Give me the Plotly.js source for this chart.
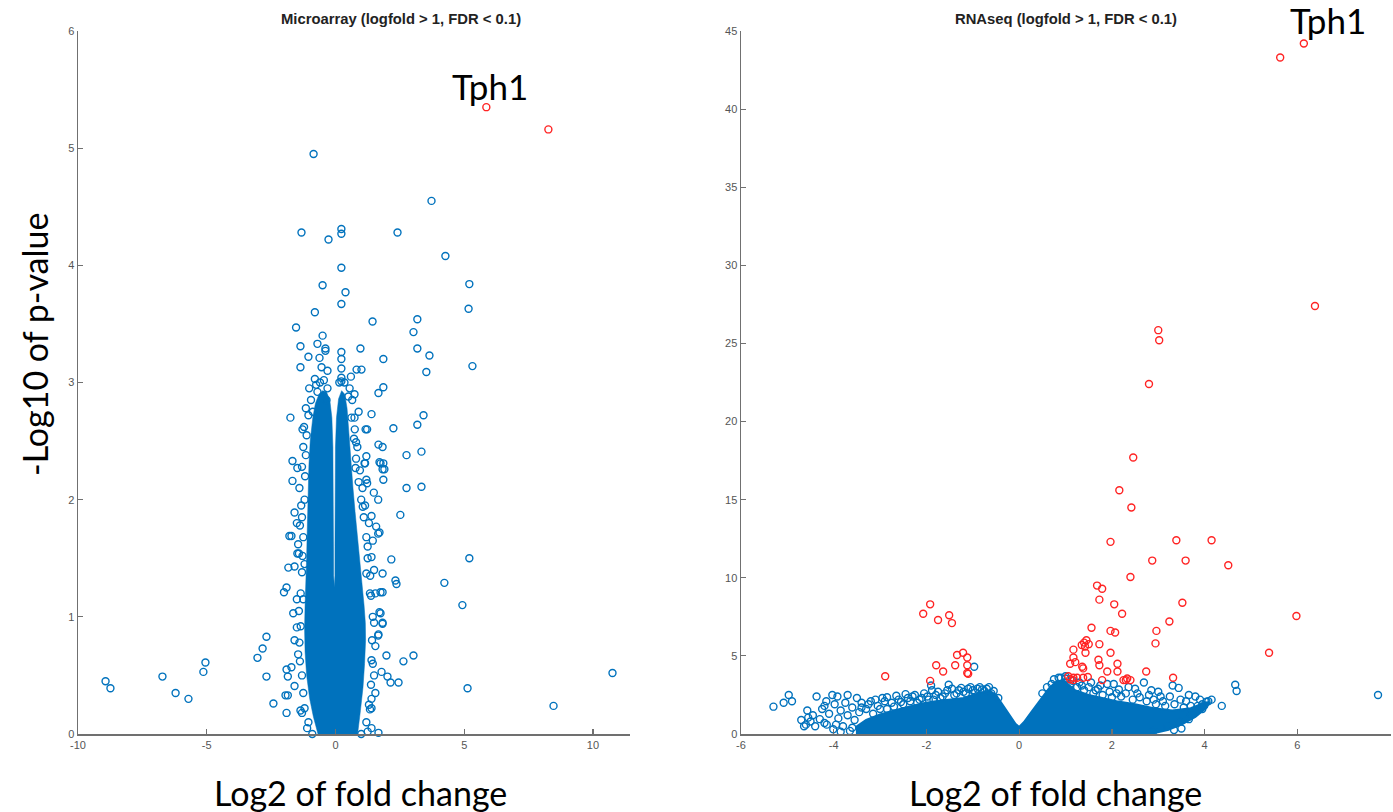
<!DOCTYPE html>
<html><head><meta charset="utf-8">
<script src="https://cdn.plot.ly/plotly-3.0.1.min.js"></script>
<style>html,body{margin:0;padding:0;background:#fff}#chart{width:1393px;height:812px}</style>
</head><body><div id="chart"></div>
<script>
// ---------------- Microarray (left) ----------------
const microTitle = "Microarray (logfold > 1, FDR < 0.1)";
const microXTicks = [-10, -5, 0, 5, 10];
const microXTickText = ["-10", "-5", "0", "5", "10"];
const microYTicks = [0, 1, 2, 3, 4, 5, 6];

// dense core of the cloud (outline of the solid region)
const microCoreX = [-0.68,-0.86,-1.0,-1.12,-1.18,-1.2,-1.18,-1.14,-1.12,-1.1,-1.08,-1.06,-1.03,-0.98,-0.93,-0.88,-0.78,-0.64,-0.5,-0.35,-0.22,-0.14,-0.1,-0.09,-0.09,-0.07,-0.04,-0.02,-0.02,-0.02,0.0,0.04,0.12,0.24,0.36,0.45,0.52,0.6,0.68,0.76,0.85,0.95,1.04,1.11,1.16,1.17,1.13,1.07,0.97,0.86];
const microCoreY = [0,0.15,0.3,0.5,0.7,0.9,1.1,1.3,1.5,1.7,1.9,2.1,2.3,2.5,2.6,2.7,2.82,2.9,2.93,2.92,2.85,2.7,2.45,2.0,1.6,1.35,1.25,1.35,1.6,2.0,2.45,2.7,2.86,2.93,2.9,2.78,2.55,2.3,2.1,1.9,1.7,1.5,1.3,1.1,0.95,0.8,0.6,0.4,0.2,0];

const microBlueX = [-0.85,3.73,-1.32,-0.27,0.23,0.23,2.41,4.27,0.23,-0.50,0.39,0.23,-0.80,5.20,5.17,-1.53,1.44,3.18,3.03,-0.50,-1.36,-0.70,-0.39,-0.39,0.97,3.18,3.65,-1.05,0.23,0.23,1.86,-1.36,-0.62,-0.54,-0.31,0.82,1.01,3.53,5.32,0.23,0.23,0.23,-0.80,-0.31,-0.70,1.86,1.67,0.74,
 1.40,0.74,-1.75,3.42,3.18,2.25,1.17,-1.28,1.67,1.83,2.76,3.34,-1.67,-1.48,1.13,1.71,1.86,1.90,0.78,-1.67,2.76,3.34,1.20,1.86,2.52,-1.79,1.71,2.17,5.20,-1.48,-1.83,
 4.23,4.93,3.03,2.64,5.13,8.47,10.76,
 -1.90,-2.00,-2.68,-2.83,-3.03,-2.68,-2.41,-1.90,-1.90,-1.94,-1.36,1.83,2.33,2.37,1.83,1.71,1.83,1.67,1.98,1.79,2.02,2.14,2.45,1.40,1.67,1.40,
 -8.93,-8.74,-6.72,-6.21,-5.71,-5.13,-5.05,
 -1.05,-1.20,-1.25,-1.30,-1.38,-1.40,-1.35,-1.42,-1.35,-1.30,-1.28,-1.25,-1.30,-1.20,-1.18,-1.15,-1.12,-1.05,-0.95,-0.60,
 1.20,1.30,1.38,1.45,1.42,1.45,1.38,1.35,1.25,1.20,1.10,1.00,0.90,0.80,0.72,0.62,0.50,0.15,
 -1.59,-1.71,-1.59,-1.42,-1.50,-1.71,-1.85,-1.59,-1.85,-1.64,-1.50,-1.59,
 1.75,1.83,1.66,1.75,1.66,1.58,1.40,1.20,1.66,1.49,1.23,1.06,1.40,1.83,1.75,1.20,1.15,0.80,1.23,1.34,1.40,1.40,1.34,
 -1.45,-1.38,-1.33,-1.40,-1.30,-1.25,-1.22,-1.15,-1.02,-0.88,-0.75,-0.45,-0.35,-1.20,-1.25,-1.50,-1.45,-1.30,-1.10,-0.90,
 0.35,0.55,0.65,0.75,0.85,0.95,1.05,1.15,1.30,1.25,1.45,1.50,1.55,1.50,1.55,1.50,1.55,1.25,1.00,0.90,0.60];
const microBlueY = [4.95,4.55,4.28,4.22,4.31,4.27,4.28,4.08,3.98,3.83,3.77,3.67,3.60,3.84,3.63,3.47,3.52,3.54,3.43,3.40,3.31,3.33,3.29,3.27,3.29,3.29,3.23,3.22,3.26,3.20,3.20,3.13,3.21,3.13,3.10,3.11,3.11,3.09,3.14,3.12,3.04,3.01,3.03,2.95,2.92,2.96,2.91,2.90,
 2.73,2.70,2.70,2.72,2.64,2.61,2.60,2.60,2.47,2.45,2.38,2.41,2.33,2.27,2.31,2.32,2.31,2.26,2.27,2.16,2.10,2.11,2.17,2.17,1.87,1.69,1.72,1.49,1.50,1.54,1.42,
 1.29,1.10,0.67,0.62,0.39,0.24,0.52,
 1.25,1.21,0.83,0.73,0.65,0.49,0.26,0.18,0.55,0.33,0.20,1.37,1.31,1.28,1.21,1.04,0.95,0.85,0.67,0.53,0.49,0.44,0.44,0.22,0.01,0.05,
 0.45,0.39,0.49,0.35,0.30,0.53,0.61,
 0.10,0.22,0.35,0.50,0.62,0.78,0.92,1.05,1.20,1.38,1.52,1.68,1.85,2.00,2.20,2.38,2.55,2.72,2.85,3.00,
 0.10,0.25,0.42,0.60,0.80,1.00,1.18,1.35,1.50,1.68,1.85,2.00,2.15,2.35,2.52,2.70,2.88,3.00,
 1.43,1.69,1.89,1.54,1.80,0.57,0.49,0.41,0.33,1.03,0.91,0.80,
 1.03,0.94,0.84,1.21,1.71,1.77,1.51,1.37,2.00,2.06,2.14,1.94,1.86,2.26,2.31,2.37,2.31,2.49,2.60,1.20,0.63,0.30,0.21,
 1.62,1.78,1.95,2.10,2.28,2.45,2.62,2.78,2.95,2.75,2.98,3.02,2.85,1.45,1.15,1.15,0.68,0.18,0.05,0.00,
 3.00,2.95,2.85,2.60,2.45,2.25,2.10,1.95,1.80,1.60,1.65,1.40,1.20,0.95,0.75,0.50,0.35,0.02,0.00,2.75,3.05];
const microRedX = [5.86, 8.27];
const microRedY = [5.35, 5.16];

// ---------------- RNAseq (right) ----------------
const rnaTitle = "RNAseq (logfold > 1, FDR < 0.1)";
const rnaXTicks = [-6, -4, -2, 0, 2, 4, 6, 8];
const rnaXTickText = ["-6", "-4", "-2", "0", "2", "4", "6", "8"];
const rnaYTicks = [0, 5, 10, 15, 20, 25, 30, 35, 40, 45];

const rnaCoreX = [-3.5,-3.5,-3.3,-3.0,-2.7,-2.4,-2.1,-1.8,-1.5,-1.2,-1.0,-0.8,-0.65,-0.5,-0.35,-0.2,-0.08,0,0.1,0.25,0.45,0.65,0.8,0.95,1.05,1.2,1.5,1.8,2.1,2.5,2.9,3.3,3.7,4.0,4.1,4.05,3.8,3.5,3.2,2.9,2.6];
const rnaCoreY = [0,0.5,0.9,1.25,1.5,1.7,1.95,2.1,2.2,2.3,2.5,2.7,2.8,2.5,1.85,1.15,0.65,0.45,0.75,1.35,2.15,2.95,3.35,3.45,3.2,2.8,2.5,2.3,2.1,1.9,1.65,1.5,1.65,2.0,2.05,1.7,1.1,0.6,0.25,0.05,0];

const rnaBlueX = [-5.30,-5.08,-4.97,-4.90,-4.64,-4.55,-4.57,-4.50,-4.45,-4.37,-4.30,-4.25,-4.20,-4.16,-4.10,-4.03,-4.01,-3.98,-3.92,-3.90,-3.85,-3.80,-3.75,-3.70,-3.65,-3.60,-3.55,-3.45,-3.40,-3.35,-3.30,-3.20,-3.15,-3.05,-2.95,-2.90,-2.85,-2.75,-2.60,-2.50,-2.40,-2.30,-2.20,-2.10,-1.95,-1.90,-1.88,-1.80,-1.70,-1.60,-1.52,-1.45,-1.40,-1.30,-1.20,-1.10,-1.00,-0.97,-0.90,-0.80,-0.70,-0.60,-4.60,-4.70,
 0.60,0.75,0.90,1.00,1.10,1.25,1.40,1.50,1.60,1.70,1.80,1.90,2.04,2.10,2.20,2.36,2.45,2.55,2.69,2.75,2.85,2.95,3.05,3.15,3.31,3.44,3.48,3.55,3.66,3.75,3.85,3.95,4.04,4.08,4.37,4.66,4.69,7.74,3.34,3.66,2.90,3.20,3.50,
 -3.40,-3.25,-3.10,-3.00,-2.85,-2.70,-2.65,-2.55,-2.45,-2.35,-2.25,-2.15,-2.05,-1.98,-1.85,-1.75,-1.65,-1.55,-1.35,-1.25,-1.15,-1.05,-0.95,-0.85,-0.75,-0.65,-0.55,-0.45,-4.20,-4.40,-4.15,-3.95,-3.60,-3.85,-3.50,-3.70,
 0.50,0.70,0.85,1.00,1.15,1.30,1.35,1.55,1.65,1.75,1.95,2.00,2.15,2.30,2.50,2.60,2.80,2.90,3.00,3.10,3.25,3.35,3.60,3.70,3.90,3.80,4.15,3.45,3.70,3.95];
const rnaBlueY = [1.75,2.0,2.5,2.1,0.5,1.05,1.5,0.8,1.2,2.4,0.95,1.6,0.7,2.1,1.3,2.5,0.3,1.9,2.4,1.0,1.5,0.5,2.0,1.2,0.2,1.7,0.9,1.4,2.0,0.3,1.6,2.1,1.3,1.8,2.3,2.1,1.6,2.0,2.2,1.9,2.3,2.4,2.0,2.3,2.2,3.1,2.8,2.5,2.3,2.6,3.15,2.9,2.5,2.8,2.7,2.9,2.8,4.3,2.9,2.85,2.9,2.6,0.6,0.9,
 3.0,3.5,3.6,3.55,3.2,3.0,2.8,3.0,2.6,2.9,2.5,3.2,3.2,2.6,2.4,3.0,2.2,2.6,3.3,2.1,2.8,1.9,2.4,1.8,3.1,2.95,2.2,1.7,2.5,1.4,1.8,1.9,2.06,2.1,1.8,3.15,2.75,2.5,0.25,0.95,0.2,0.5,0.35,
 1.7,1.9,2.2,1.6,2.35,1.75,2.45,2.05,2.55,2.1,2.5,2.2,2.6,2.4,2.2,2.7,2.4,2.8,2.6,2.95,2.6,3.0,2.65,3.0,2.75,3.0,2.75,2.3,1.8,0.5,0.6,0.6,0.4,0.15,2.3,2.5,
 2.6,3.2,3.6,3.7,3.4,3.3,3.1,3.3,2.8,3.1,2.7,2.35,2.85,2.6,2.9,2.35,2.5,2.2,2.7,2.1,2.4,1.9,2.1,1.8,2.2,2.4,2.2,0.8,1.3,1.6];

const rnaRedX = [5.63,6.14,6.38,3.00,3.02,2.80,2.46,2.16,2.42,1.97,3.39,4.15,2.87,3.59,4.51,2.40,1.68,1.79,1.73,2.05,3.52,2.22,3.24,1.56,1.97,2.07,2.96,5.98,
 1.45,1.40,1.50,1.42,1.35,1.73,1.17,1.43,1.97,2.94,5.39,1.17,1.10,1.21,1.71,1.36,1.38,1.73,2.12,1.90,2.12,2.74,1.06,1.17,1.25,1.38,1.48,1.79,2.25,2.33,1.10,1.17,3.32,2.30,2.40,
 -2.07,-1.92,-1.75,-1.51,-1.45,-2.89,-1.79,-1.64,-1.92,-1.38,-1.34,-1.21,-1.12,-1.12,-1.10,-1.12];
const rnaRedY = [43.3,44.2,27.4,25.85,25.2,22.4,17.7,15.6,14.5,12.3,12.4,12.4,11.1,11.1,10.8,10.05,9.5,9.3,8.6,8.3,8.4,7.7,7.2,6.8,6.6,6.5,6.6,7.55,
 6.0,5.85,5.75,5.6,5.7,5.75,5.4,5.2,5.2,5.8,5.2,4.9,4.5,4.6,4.75,4.3,4.2,4.4,4.5,4.0,4.0,4.0,3.7,3.6,3.6,3.6,3.65,3.45,3.45,3.55,3.5,3.45,3.6,3.45,3.45,
 7.7,8.3,7.3,7.6,7.1,3.7,4.4,4.0,3.4,4.4,5.06,5.2,4.9,3.9,3.85,4.4];

const labelGene = "Tph1";
const yTitle = "-Log10 of p-value";
const xTitle = "Log2 of fold change";

// ---------------- drawing ----------------
const BLUE = "rgb(0,114,189)";
const RED = "rgb(255,35,35)";
const mk = c => ({symbol: "circle-open", size: 7, color: c, line: {width: 1.4, color: c}});

const traces = [
  {x: microCoreX, y: microCoreY, xaxis: "x", yaxis: "y", type: "scatter", mode: "lines", fill: "toself",
   fillcolor: BLUE, line: {color: BLUE, width: 0.5}, hoverinfo: "skip", showlegend: false},
  {x: microBlueX, y: microBlueY, xaxis: "x", yaxis: "y", type: "scatter", mode: "markers", marker: mk(BLUE), cliponaxis: false, showlegend: false},
  {x: microRedX, y: microRedY, xaxis: "x", yaxis: "y", type: "scatter", mode: "markers", marker: mk(RED), cliponaxis: false, showlegend: false},
  {x: rnaCoreX, y: rnaCoreY, xaxis: "x2", yaxis: "y2", type: "scatter", mode: "lines", fill: "toself",
   fillcolor: BLUE, line: {color: BLUE, width: 2}, hoverinfo: "skip", showlegend: false},
  {x: rnaBlueX, y: rnaBlueY, xaxis: "x2", yaxis: "y2", type: "scatter", mode: "markers", marker: mk(BLUE), cliponaxis: false, showlegend: false},
  {x: rnaRedX, y: rnaRedY, xaxis: "x2", yaxis: "y2", type: "scatter", mode: "markers", marker: mk(RED), cliponaxis: false, showlegend: false}
];

const tickFont = {family: "Liberation Sans Narrow, Liberation Sans, Arial, sans-serif", size: 11, color: "#555"};
const axBase = {showgrid: false, zeroline: false, showline: true, linecolor: "#707070", linewidth: 1.5,
  ticks: "inside", ticklen: 5, tickwidth: 1.2, tickcolor: "#707070", tickfont: tickFont, mirror: false, fixedrange: true};

const W = 1393, H = 812;
const px = v => v / W, py = v => 1 - v / H;
const bigFont = {family: "Lato, Open Sans, sans-serif", size: 34, color: "#000"};
const geneFont = {family: "Lato, Open Sans, sans-serif", size: 35, color: "#000"};
const titleFont = {family: "Liberation Sans, Arial, sans-serif", size: 14.8, color: "#222"};
const ann = (text, x, y, font, extra) => Object.assign({text, xref: "paper", yref: "paper", x: px(x), y: py(y),
  xanchor: "center", yanchor: "middle", showarrow: false, font}, extra || {});
const esc = s => s.replace(/</g, "&lt;").replace(/>/g, "&gt;");

const layout = {
  width: W, height: H, autosize: false,
  margin: {l: 0, r: 0, t: 0, b: 0},
  paper_bgcolor: "#fff", plot_bgcolor: "#fff", showlegend: false,
  xaxis: Object.assign({}, axBase, {domain: [px(78), px(630)], range: [-10, 11.44], anchor: "y",
    tickmode: "array", tickvals: microXTicks, ticktext: microXTickText}),
  yaxis: Object.assign({}, axBase, {domain: [py(734), py(31)], range: [0, 6], anchor: "x",
    tickmode: "array", tickvals: microYTicks}),
  xaxis2: Object.assign({}, axBase, {domain: [px(741), px(1391)], range: [-6, 8.02], anchor: "y2",
    tickmode: "array", tickvals: rnaXTicks, ticktext: rnaXTickText}),
  yaxis2: Object.assign({}, axBase, {domain: [py(734), py(31)], range: [0, 45], anchor: "x2",
    tickmode: "array", tickvals: rnaYTicks}),
  annotations: [
    ann("<b>" + esc(microTitle) + "</b>", 401, 19, titleFont),
    ann("<b>" + esc(rnaTitle) + "</b>", 1066, 19, titleFont),
    ann(labelGene, 490, 86, geneFont),
    ann(labelGene, 1328, 20, geneFont),
    ann(yTitle, 35, 345, bigFont, {textangle: -90}),
    ann(xTitle, 360, 792, bigFont),
    ann(xTitle, 1055, 792, bigFont)
  ]
};

Plotly.newPlot("chart", traces, layout, {displayModeBar: false, staticPlot: true});
</script></body></html>
